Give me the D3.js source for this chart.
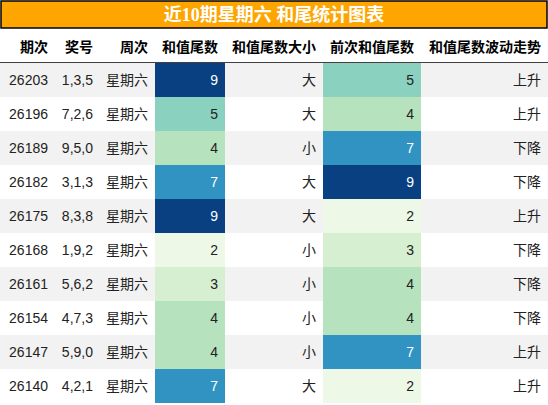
<!DOCTYPE html><html><head><meta charset="utf-8"><script src="https://cdn.jsdelivr.net/npm/d3@7"></script>
<style>body{margin:0;background:#fff}</style></head><body><svg id="c" width="548" height="405"></svg>
<script>
const headers=["期次","奖号","周次","和值尾数","和值尾数大小","前次和值尾数","和值尾数波动走势"];
const periods=["26203","26196","26189","26182","26175","26168","26161","26154","26147","26140"];
const numbers=["1,3,5","7,2,6","9,5,0","3,1,3","8,3,8","1,9,2","5,6,2","4,7,3","5,9,0","4,2,1"];
const weekday="星期六";
const tails=[9,5,4,7,9,2,3,4,4,7];
const sizes=["大","大","小","大","大","小","小","小","小","大"];
const prevTails=[5,4,7,9,2,3,4,4,7,2];
const trends=["上升","上升","下降","下降","上升","下降","下降","下降","上升","上升"];
const svg=d3.select("#c");
const font="'Liberation Sans','Noto Sans CJK SC',sans-serif";
const cols=[0,55,100,155,225,323,421,548];
const y=d3.scaleBand().domain(d3.range(10)).range([63,403]);
const color=d3.scaleSequential(d3.interpolateGnBu).domain([1.6,9]);
svg.append("rect").attr("x",1).attr("y",1).attr("width",546).attr("height",27).attr("fill","#FFA500").attr("stroke","#000").attr("stroke-width",1.5);
svg.append("text").attr("x",274).attr("y",21).attr("text-anchor","middle").attr("fill","#fff").attr("font-weight","bold").attr("font-size",18).attr("font-family","'Liberation Serif','Noto Sans CJK SC',serif").text("近10期星期六 和尾统计图表");
headers.forEach((h,i)=>svg.append("text").attr("x",cols[i+1]-7).attr("y",52).attr("text-anchor","end").attr("font-weight","bold").attr("font-size",14).attr("font-family",font).text(h));
svg.append("line").attr("x1",0).attr("x2",548).attr("y1",63).attr("y2",63).attr("stroke","#000").attr("stroke-width",1.5);
d3.range(10).forEach(r=>{
  const yy=y(r),h=y.bandwidth();
  if(r%2==0)svg.append("rect").attr("x",0).attr("y",yy).attr("width",548).attr("height",h).attr("fill","#f2f2f2");
  const vals=[periods[r],numbers[r],weekday,tails[r],sizes[r],prevTails[r],trends[r]];
  vals.forEach((v,i)=>{
    let fill="#222";
    if(i==3||i==5){svg.append("rect").attr("x",cols[i]).attr("y",yy).attr("width",cols[i+1]-cols[i]).attr("height",h).attr("fill",color(v));
      if(v>=7)fill="#fff";}
    svg.append("text").attr("x",cols[i+1]-7).attr("y",yy+h/2+5).attr("text-anchor","end").attr("font-size",14).attr("fill",fill).attr("font-family",font).text(v);
  });
});
</script></body></html>
